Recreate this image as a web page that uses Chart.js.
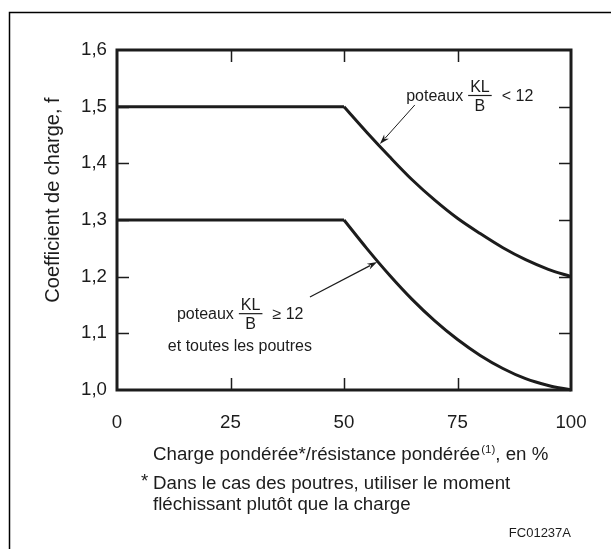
<!DOCTYPE html>
<html>
<head>
<meta charset="utf-8">
<script src="https://cdn.jsdelivr.net/npm/chart.js@4.4.1/dist/chart.umd.min.js"></script>
<style>
  html, body { margin: 0; padding: 0; background: #fff; }
  #wrap { width: 611px; height: 549px; position: relative; }
</style>
</head>
<body>
<div id="wrap"><canvas id="chart"></canvas></div>
<script>
// load ratio (%) and load factor f for the two member groups
const loadPct  = [0, 50, 55, 60, 65, 70, 75, 80, 85, 90, 95, 100];
const fColumns = [1.5, 1.5, 1.455, 1.412, 1.371, 1.335, 1.303, 1.276, 1.251, 1.230, 1.213, 1.2];
const fBeams   = [1.3, 1.3, 1.250, 1.203, 1.160, 1.122, 1.089, 1.061, 1.038, 1.020, 1.008, 1.0];
const xTicks = [0, 25, 50, 75, 100];
const yTicks = [1.0, 1.1, 1.2, 1.3, 1.4, 1.5, 1.6];

const FONT = '"Liberation Sans", Arial, Helvetica, sans-serif';
const INK = '#1c1c1c';
const AXIS_PX = 18.7;

// flat part (0..50) and curved part (50..100) are separate datasets so the knee stays sharp
function points(ys, from, to) {
  const out = [];
  for (let i = from; i <= to; i++) out.push({ x: loadPct[i], y: ys[i] });
  return out;
}
const last = loadPct.length - 1;
const lineStyle = { borderColor: INK, borderWidth: 3, pointRadius: 0, fill: false, clip: false };

// annotation anchors in data units
const notes = {
  upper: { text: { x: 63.7, y: 1.51 }, tail: { x: 65.6, y: 1.503 }, tip: { x: 57.9, y: 1.434 }, rel: '< 12' },
  lower: { text: { x: 13.2, y: 1.125 }, tail: { x: 42.5, y: 1.164 }, tip: { x: 57.3, y: 1.226 }, rel: '\u2265 12' },
  lowerExtra: { x: 11.2, y: 1.069 }
};

function arrow(ctx, x1, y1, x2, y2) {
  const a = Math.atan2(y2 - y1, x2 - x1);
  const len = 10, half = 3.2;
  ctx.beginPath();
  ctx.moveTo(x1, y1);
  ctx.lineTo(x2 - Math.cos(a) * len * 0.8, y2 - Math.sin(a) * len * 0.8);
  ctx.stroke();
  ctx.beginPath();
  ctx.moveTo(x2, y2);
  ctx.lineTo(x2 - Math.cos(a) * len - Math.sin(a) * half, y2 - Math.sin(a) * len + Math.cos(a) * half);
  ctx.lineTo(x2 - Math.cos(a) * len * 0.7, y2 - Math.sin(a) * len * 0.7);
  ctx.lineTo(x2 - Math.cos(a) * len + Math.sin(a) * half, y2 - Math.sin(a) * len - Math.cos(a) * half);
  ctx.closePath();
  ctx.fill();
}

// "poteaux KL/B < 12" with a stacked fraction
function fractionLabel(ctx, x, y, rel) {
  ctx.font = '16px ' + FONT;
  ctx.textAlign = 'left';
  ctx.textBaseline = 'alphabetic';
  ctx.fillText('poteaux', x, y);
  const w = ctx.measureText('poteaux').width;
  const fx = x + w + 5;
  const fw = ctx.measureText('KL').width + 4;
  ctx.textAlign = 'center';
  ctx.fillText('KL', fx + fw / 2, y - 9);
  ctx.fillText('B', fx + fw / 2, y + 10);
  ctx.lineWidth = 1.2;
  ctx.beginPath();
  ctx.moveTo(fx, y - 5.5);
  ctx.lineTo(fx + fw, y - 5.5);
  ctx.stroke();
  ctx.textAlign = 'left';
  ctx.fillText(rel, fx + fw + 10, y);
}

const decorations = {
  id: 'decorations',
  afterDraw(chart) {
    const { ctx, chartArea: ca, scales } = chart;
    const xs = scales.x, ys = scales.y;
    ctx.save();
    ctx.strokeStyle = INK;
    ctx.fillStyle = INK;

    // outer frame, runs off the right and bottom edges
    ctx.lineWidth = 1.5;
    ctx.strokeStyle = '#000';
    ctx.strokeRect(9.5, 12.5, 700, 700);
    ctx.strokeStyle = INK;

    // inward ticks on all four sides
    ctx.lineWidth = 1.5;
    const tl = 12;
    ctx.beginPath();
    xTicks.slice(1, -1).forEach(v => {
      const px = Math.round(xs.getPixelForValue(v)) + 0.5;
      ctx.moveTo(px, ca.bottom); ctx.lineTo(px, ca.bottom - tl);
      ctx.moveTo(px, ca.top); ctx.lineTo(px, ca.top + tl);
    });
    yTicks.slice(1, -1).forEach(v => {
      const py = Math.round(ys.getPixelForValue(v)) + 0.5;
      ctx.moveTo(ca.left, py); ctx.lineTo(ca.left + tl, py);
      ctx.moveTo(ca.right, py); ctx.lineTo(ca.right - tl, py);
    });
    ctx.stroke();

    // plot box
    ctx.lineWidth = 3;
    ctx.strokeRect(ca.left, ca.top, ca.right - ca.left, ca.bottom - ca.top);

    // curve annotations
    ctx.lineWidth = 1;
    [notes.upper, notes.lower].forEach(n => {
      arrow(ctx, xs.getPixelForValue(n.tail.x), ys.getPixelForValue(n.tail.y),
                 xs.getPixelForValue(n.tip.x), ys.getPixelForValue(n.tip.y));
      fractionLabel(ctx, xs.getPixelForValue(n.text.x), ys.getPixelForValue(n.text.y), n.rel);
    });
    ctx.font = '16px ' + FONT;
    ctx.textAlign = 'left';
    ctx.fillText('et toutes les poutres', xs.getPixelForValue(notes.lowerExtra.x), ys.getPixelForValue(notes.lowerExtra.y));

    // y axis title
    ctx.save();
    ctx.translate(59, (ca.top + ca.bottom) / 2 - 20);
    ctx.rotate(-Math.PI / 2);
    ctx.font = '20px ' + FONT;
    ctx.textAlign = 'center';
    ctx.fillText('Coefficient de charge, f', 0, 0);
    ctx.restore();

    // x axis title with superscript reference
    ctx.font = AXIS_PX + 'px ' + FONT;
    ctx.textAlign = 'left';
    let tx = ca.left + 36;
    const ty = ca.bottom + 70;
    const p1 = 'Charge pondérée*/résistance pondérée';
    ctx.fillText(p1, tx, ty);
    tx += ctx.measureText(p1).width + 1;
    ctx.font = '11.5px ' + FONT;
    ctx.fillText('(1)', tx, ty - 7);
    tx += ctx.measureText('(1)').width;
    ctx.font = AXIS_PX + 'px ' + FONT;
    ctx.fillText(', en %', tx, ty);

    // footnote
    ctx.fillText('*', ca.left + 24, ty + 27);
    ctx.fillText('Dans le cas des poutres, utiliser le moment', ca.left + 36, ty + 29);
    ctx.fillText('fléchissant plutôt que la charge', ca.left + 36, ty + 50);

    ctx.font = '13px ' + FONT;
    ctx.textAlign = 'right';
    ctx.fillText('FC01237A', ca.right, ty + 77);
    ctx.restore();
  }
};

new Chart(document.getElementById('chart'), {
  type: 'line',
  data: {
    datasets: [
      { ...lineStyle, data: points(fColumns, 0, 1), tension: 0 },
      { ...lineStyle, data: points(fColumns, 1, last), cubicInterpolationMode: 'monotone' },
      { ...lineStyle, data: points(fBeams, 0, 1), tension: 0 },
      { ...lineStyle, data: points(fBeams, 1, last), cubicInterpolationMode: 'monotone' }
    ]
  },
  options: {
    responsive: true,
    maintainAspectRatio: false,
    animation: false,
    layout: { padding: { top: 50, right: 40, left: 0, bottom: 0 } },
    plugins: { legend: { display: false }, tooltip: { enabled: false } },
    scales: {
      x: {
        type: 'linear', min: 0, max: 100,
        grid: { display: false, drawTicks: false },
        border: { display: false },
        afterBuildTicks: s => { s.ticks = xTicks.map(v => ({ value: v })); },
        afterFit: s => { s.height = 159; },
        ticks: { color: INK, font: { family: FONT, size: AXIS_PX }, padding: 22, maxRotation: 0 }
      },
      y: {
        type: 'linear', min: 1.0, max: 1.6,
        grid: { display: false, drawTicks: false },
        border: { display: false },
        afterBuildTicks: s => { s.ticks = yTicks.map(v => ({ value: v })); },
        afterFit: s => { s.width = 117; },
        ticks: {
          color: INK, font: { family: FONT, size: AXIS_PX }, padding: 10,
          callback: v => v.toFixed(1).replace('.', ',')
        }
      }
    }
  },
  plugins: [decorations]
});
</script>
</body>
</html>
